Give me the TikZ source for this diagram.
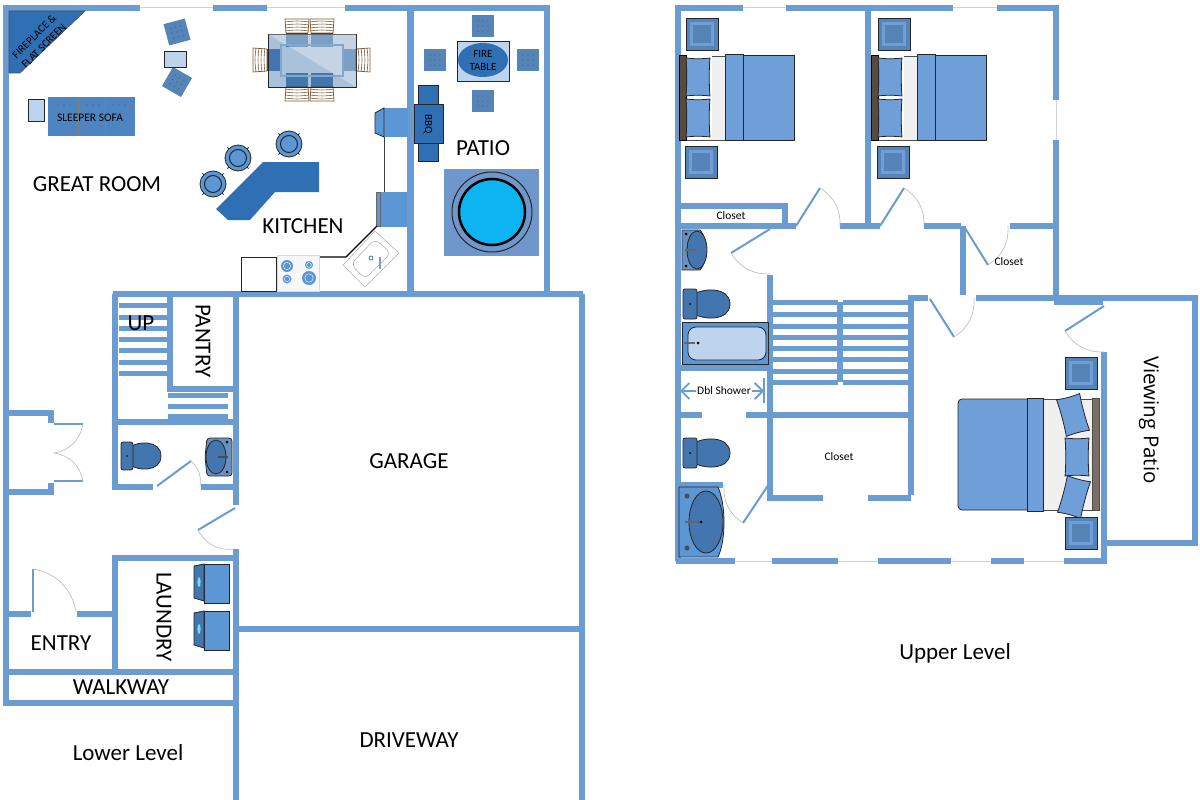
\documentclass[tikz,border=0pt]{standalone}
\usepackage{fontspec}
\setmainfont{Carlito}
\newfontfamily\patiofont{Open Sans}
\usetikzlibrary{arrows.meta}
\definecolor{wallblue}{HTML}{6A9BD1}
\definecolor{darkblue}{HTML}{2F70B5}
\definecolor{midblue}{HTML}{5B97D5}
\definecolor{seatblue}{HTML}{4376AE}
\definecolor{coverblue}{HTML}{6F9FD8}
\definecolor{paleblue}{HTML}{BDD3EE}
\definecolor{chairtan}{HTML}{7A5A35}
\definecolor{tubblue}{HTML}{6F97CC}
\definecolor{tubcyan}{HTML}{0DB4F2}
\definecolor{headbrown}{HTML}{5A4A3C}
\tikzset{
  wall/.style={line width=5.5pt,draw=wallblue},
  glass/.style={line width=1pt,draw=black!18},
  leaf/.style={line width=2pt,draw=wallblue},
  swing/.style={line width=.6pt,draw=black!28},
  outline/.style={line width=.8pt,draw=black!85},
  roomlabel/.style={font=\fontsize{23}{25}\selectfont},
  smalllabel/.style={font=\fontsize{11.5}{13}\selectfont},
  patchair/.pic={
    \fill[seatblue!90!white] (-11,-11) rectangle (11,11);
    \foreach \i in {-5,0,5}{
      \foreach \j in {-5,0,5}{
        \fill[seatblue!85!black] (\i,\j) circle (.7);
      }
    }
  },
  nightstand/.pic={
    \fill[seatblue!90!white,outline] (-16,-16) rectangle (16,16);
    \draw[line width=2.5pt,draw=coverblue] (-10.5,-10.5) rectangle (10.5,10.5);
  },
  stool/.pic={
    \foreach \a in {45,135,225,315}{\draw[line width=1pt,black!80] (0,0) -- (\a:15);}
    \fill[midblue,outline] (0,0) circle (13);
    \draw[line width=1pt,draw=black!85] (0,0) circle (8.5);
  },
  dinechair/.pic={
    \fill[seatblue] (-11,14) rectangle (11,28);
    \draw[line width=1.4pt,black!85] (-11,14) -- (11,14);
    \fill[white,draw=chairtan,line width=.7pt] (-12,0) -- (12,0) -- (11,14) -- (-11,14) -- cycle;
    \foreach \i in {3,6,9,12}{\draw[line width=.6pt,chairtan] (-12,\i) to[bend left=8] (12,\i);}
  },
  toilet/.pic={
    \fill[seatblue,outline] (10,-9) .. controls (18,-16) and (47,-18) .. (47,0) .. controls (47,18) and (18,16) .. (10,9) -- cycle;
    \fill[seatblue,outline,rounded corners=2pt] (0,-15) rectangle (14,15);
    \fill[black] (7,0) circle (1);
  },
  pillow/.pic={
    \fill[coverblue,draw=black!85,line width=.8pt] (-12,-19) .. controls (-11,-10) and (-11,10) .. (-12,19)
      .. controls (-4,18) and (4,18) .. (12,19) .. controls (11,10) and (11,-10) .. (12,-19)
      .. controls (4,-18) and (-4,-18) .. (-12,-19) -- cycle;
  },
  twinbed/.pic={
    \fill[black!6,draw=black!70,line width=.8pt] (6,1) rectangle (48,85);
    \fill[white] (6,1) rectangle (33,84);
    \fill[headbrown,draw=black,line width=.5pt] (0,0) rectangle (7,85);
    \fill[coverblue,outline] (46,0) rectangle (115,85);
    \fill[coverblue,outline] (46,-1) rectangle (64,85);
    \pic at (19,22) {pillow};
    \pic at (19,63) {pillow};
    \pic at (23,-21) {nightstand};
    \pic at (22,107) {nightstand};
  }
}
\begin{document}
\begin{tikzpicture}[x=1pt,y=-1pt]
  \useasboundingbox (0,0) rectangle (1200,800);

  % lower level walls
  \draw[glass] (140,8) -- (213,8) (267,8) -- (345,8);
  \draw[wall] (6,706) -- (6,8) -- (140,8) (213,8) -- (267,8) (345,8) -- (547,8) -- (547,292);
  \draw[wall,line width=7pt] (410,8) -- (410,292);
  \draw[wall] (113,294) -- (583,294) (582,294) -- (582,800);
  \draw[wall] (236,294) -- (236,505) (236,549) -- (236,800) (236,629) -- (582,629);
  \draw[wall] (115,294) -- (115,487) -- (153,487) (201,487) -- (233,487);
  \draw[wall] (170,294) -- (170,389) -- (233,389) (117,422) -- (233,422);
  \draw[wall] (4,413) -- (51,413) -- (51,423) (51,483) -- (51,492) -- (4,492);
  \draw[wall] (234,558) -- (115,558) -- (115,672) (6,614) -- (31,614) (77,614) -- (115,614);
  \draw[wall] (4,672) -- (234,672) (4,703) -- (234,703);
  \foreach \y in {305,317,328,339,350,362,373}{
    \fill[wallblue] (119,\y-2.5) rectangle (167,\y+2.5);
  }
  \foreach \y in {395,406,416}{
    \fill[wallblue] (168,\y-2.5) rectangle (228,\y+2.5);
  }

  % lower level doors
  \draw[leaf] (157,486) -- (191,461);
  \draw[swing] (191,461) to[bend left=28] (200,487);
  \draw[leaf] (54,424) -- (83,424) (54,481) -- (83,481);
  \draw[swing] (83,424) to[bend left=35] (54,453) to[bend left=35] (83,481);
  \draw[leaf] (33,612) -- (33,569);
  \draw[swing] (33,569) to[bend left=35] (76,612);
  \draw[leaf] (235,508) -- (198,530);
  \draw[swing] (198,530) to[bend right=35] (235,549);

  % great room
  \fill[darkblue,draw=black!70,line width=.6pt] (9,11) -- (85,11) -- (20,73) -- (9,73) -- cycle;
  \node[rotate=45,align=center,font=\fontsize{11}{13.5}\selectfont] (fireplace) at (39,41) {FIREPLACE \&\\FLAT SCREEN};
  \fill[paleblue,outline] (28,99) rectangle (44,121);
  \fill[darkblue!85!white] (48,97) rectangle (135,136);
  \foreach \x in {78,105}{\draw[line width=.4pt,black!50] (\x,98) -- (\x,135);}
  \foreach \x in {58,64,70,87,93,99,113,119,125}{
    \fill[seatblue!80!black] (\x,105) circle (.7);
  }
  \node[font=\fontsize{11.5}{13}\selectfont] (sofa) at (90,118) {SLEEPER SOFA};
  \pic[rotate=15] at (177,32) {patchair};
  \pic[rotate=-30] at (177,82) {patchair};
  \fill[paleblue,outline] (164,51) rectangle (186,67);

  % dining table
  \foreach \x in {297,322}{
    \pic at (\x,19) {dinechair};
    \pic[yscale=-1] at (\x,101) {dinechair};
  }
  \pic[rotate=90] at (253,60) {dinechair};
  \pic[rotate=-90] at (370,60) {dinechair};
  \fill[seatblue,fill opacity=.45,outline] (268,34) rectangle (356,87);
  \fill[white,fill opacity=.3] (268,34) -- (356,87) -- (356,34) -- cycle;
  \draw[line width=1.4pt,seatblue!65!white] (281,45) rectangle (343,76);

  % kitchen
  \fill[darkblue] (263,162) -- (319,162) -- (319,192) -- (275,192) -- (250,220) -- (228,220) -- (216,209) -- cycle;
  \pic at (238,158) {stool};
  \pic at (213,184) {stool};
  \pic at (289,144) {stool};
  \draw[line width=1pt,black!75] (384,137) -- (384,192) -- (407,192);
  \fill[midblue] (384,108) rectangle (408,137);
  \fill[midblue,outline] (375,113) -- (384,108) -- (384,137) -- (375,133) -- cycle;
  \fill[midblue] (376,192) rectangle (407,227);
  \fill[midblue,draw=black!60,line width=.6pt] (376,192) rectangle (380,226);
  \draw[line width=1.4pt,black] (377,226) -- (346,257) -- (319,257);
  \draw[line width=1pt,black!85] (241,257) rectangle (276,291);
  \fill[black!3,draw=black!15] (277,255) rectangle (319,291);
  \foreach \x/\y/\r in {287/266/6,309/265/4,287/279/4.5,309/278/7}{
    \fill[midblue] (\x,\y) circle (\r);
    \draw[line width=.4pt,white] (\x,\y) circle (\r*.6);
  }
  \draw[line width=.6pt,black!30,fill=white] (343,265) -- (375,231) -- (399,253) -- (365,287) -- cycle;
  \draw[line width=.6pt,black!30,rounded corners=6pt] (351,264) -- (375,239) -- (391,253) -- (365,279) -- cycle;
  \draw[line width=.8pt,seatblue] (371,258) circle (2);
  \draw[line width=1.2pt,seatblue!70!white] (380,257) -- (380,269);

  % patio
  \fill[darkblue,outline] (418,85) rectangle (438,161);
  \fill[darkblue,outline] (414,104) rectangle (443,143);
  \node[rotate=-90,font=\fontsize{11}{12}\selectfont] (bbq) at (428,124) {BBQ};
  \fill[paleblue,outline] (457,41) rectangle (509,81);
  \fill[darkblue] (483,60) ellipse (25 and 17);
  \node[align=center,font=\fontsize{11}{13}\selectfont] (firetable) at (483,60) {FIRE\\TABLE};
  \foreach \x/\y in {483/26,435/60,528/60,483/101}{
    \pic at (\x,\y) {patchair};
  }
  \fill[tubblue] (444,169) rectangle (539,256);
  \draw[line width=1pt,black!85] (492,212) circle (40);
  \fill[tubcyan,draw=black,line width=2.5pt] (492,212) circle (33);

  % lower level fixtures
  \pic[xscale=.85,yscale=.93] at (121,456) {toilet};
  \fill[seatblue!80!white,outline,rounded corners=3pt] (207,438) -- (232,438) -- (232,476) -- (207,476) -- (205,457) -- cycle;
  \fill[seatblue,outline] (216,457) ellipse (10 and 17);
  \draw[line width=1.2pt,black!70] (218,457) -- (228,457);
  \fill[black] (227,442) circle (1.5) (227,472) circle (1.5);
  \foreach \y in {564,611}{
    \fill[midblue,outline] (204,\y) rectangle (229,\y+39);
    \fill[seatblue,outline] (194,\y+2) -- (204,\y) -- (204,\y+37) -- (194,\y+34) -- cycle;
    \fill[cyan!50] (199,\y+18) ellipse (1.6 and 5);
  }

  % lower level labels
  \node[roomlabel] (greatroom) at (97,184) {GREAT ROOM};
  \node[roomlabel] (kitchen) at (303,226) {KITCHEN};
  \node[roomlabel] (patio) at (483,148) {PATIO};
  \node[roomlabel] (up) at (141,323) {UP};
  \node[roomlabel,rotate=-90] (pantry) at (203,341) {PANTRY};
  \node[roomlabel] (garage) at (409,461) {GARAGE};
  \node[roomlabel,rotate=-90] (laundry) at (164,617) {LAUNDRY};
  \node[roomlabel] (entry) at (61,643) {ENTRY};
  \node[roomlabel] (walkway) at (121,687) {WALKWAY};
  \node[roomlabel] (driveway) at (409,740) {DRIVEWAY};
  \node[roomlabel] (lowerlevel) at (128,753) {Lower Level};

  % upper level walls
  \draw[glass] (743,8) -- (786,8) (953,8) -- (997,8) (1056,100) -- (1056,140);
  \draw[glass] (735,561) -- (772,561) (838,561) -- (878,561) (951,561) -- (991,561) (1024,561) -- (1064,561);
  \draw[wall] (678,561) -- (678,8) -- (743,8) (786,8) -- (953,8) (997,8) -- (1056,8) -- (1056,100);
  \draw[wall] (868,8) -- (868,226) (1056,140) -- (1056,298) (963,226) -- (963,295);
  \draw[wall] (676,206) -- (785,206) -- (785,226) (676,226) -- (796,226) (840,226) -- (880,226) (924,226) -- (961,226) (1010,226) -- (1056,226);
  \draw[wall] (770,275) -- (770,498) -- (823,498) (868,498) -- (911,498);
  \draw[wall] (676,368) -- (770,368) (676,415) -- (702,415) (746,415) -- (908,415) (676,485) -- (723,485);
  \draw[wall] (840,302) -- (840,382);
  \draw[wall] (911,495) -- (911,298) -- (928,298) (976,298) -- (1198,298) -- (1195,298) -- (1195,543) -- (1104,543);
  \draw[wall,line width=4pt] (1054,303) -- (1103,303);
  \draw[wall] (1104,352) -- (1104,563) (1107,561) -- (1064,561) (1024,561) -- (991,561) (951,561) -- (878,561) (838,561) -- (772,561) (735,561) -- (676,561);
  \foreach \y in {302,314,326,337,348,359,371,382}{
    \fill[wallblue] (773,\y-2.5) rectangle (838,\y+2.5);
    \fill[wallblue] (843,\y-2.5) rectangle (908,\y+2.5);
  }

  % upper level doors
  \draw[leaf] (796,226) -- (820,188);
  \draw[swing] (820,188) to[bend left=30] (840,226);
  \draw[leaf] (880,226) -- (904,188);
  \draw[swing] (904,188) to[bend left=30] (924,226);
  \draw[leaf] (965,228) -- (988,265);
  \draw[swing] (988,265) to[bend right=30] (1008,226);
  \draw[leaf] (770,229) -- (731,253);
  \draw[swing] (731,253) to[bend right=30] (770,274);
  \draw[leaf] (769,484) -- (743,523);
  \draw[swing] (743,523) to[bend left=30] (724,485);
  \draw[leaf] (930,299) -- (954,337);
  \draw[swing] (954,337) to[bend right=30] (974,298);
  \draw[leaf] (1104,306) -- (1065,331);
  \draw[swing] (1065,331) to[bend right=30] (1104,352);

  % bedrooms
  \pic at (679,55) {twinbed};
  \pic at (871,55) {twinbed};
  \fill[black!6,draw=black!70,line width=.8pt] (1040,399) rectangle (1093,510);
  \fill[headbrown!80!white,draw=black!70,line width=.5pt] (1092,398) rectangle (1099,510);
  \fill[coverblue,outline,rounded corners=4pt] (958,399) -- (1035,399) -- (1035,510) -- (958,510) -- cycle;
  \fill[coverblue,outline] (1027,398) rectangle (1043,511);
  \pic[rotate=15] at (1073,415) {pillow};
  \pic at (1077,457) {pillow};
  \pic[rotate=-15] at (1074,497) {pillow};
  \pic at (1081,373) {nightstand};
  \pic at (1081,533) {nightstand};

  % upper level baths
  \fill[seatblue!80!white,outline] (682,230) -- (700,230) .. controls (708,238) and (708,262) .. (700,270) -- (682,270) -- cycle;
  \fill[seatblue,outline] (697,250) ellipse (10 and 19);
  \draw[line width=1.2pt,black!60] (685,250) -- (695,250);
  \fill[black] (686,234) circle (1.5) (686,266) circle (1.5);
  \pic at (683,304) {toilet};
  \pic at (683,453) {toilet};
  \fill[midblue,outline] (682,322) rectangle (768,364);
  \fill[paleblue,outline,rounded corners=8pt] (688,327) -- (766,327) -- (766,360) -- (688,360) -- cycle;
  \fill[black] (698,343) circle (1.5);
  \draw[line width=1.2pt,black!60] (684,343) -- (695,343);
  \fill[midblue,outline] (679,487) -- (718,487) .. controls (726,505) and (726,540) .. (718,557) -- (679,557) -- cycle;
  \fill[seatblue,outline] (706,522) ellipse (17 and 31);
  \draw[line width=1.4pt,black!60,fill=white] (685,522) -- (701,522);
  \fill[black] (701,522) circle (1.5);
  \fill[black!70] (687,496) circle (2.5) (687,548) circle (2.5);

  % double shower
  \node[font=\fontsize{11.5}{13}\selectfont,inner sep=1pt] (shower) at (724,391) {Dbl Shower};
  \coordinate (showerl) at (680,391);
  \coordinate (showerr) at (764,391);
  \draw[line width=1.8pt,wallblue] (680,378) -- (680,403) (764,378) -- (764,403);
  \draw[line width=1.8pt,wallblue,-{Straight Barb[length=8pt,width=16pt]}] (shower.west) -- (showerl);
  \draw[line width=1.8pt,wallblue,-{Straight Barb[length=8pt,width=16pt]}] (shower.east) -- (showerr);

  % upper level labels
  \node[smalllabel] (closeta) at (731,216) {Closet};
  \node[smalllabel] (closetb) at (1009,262) {Closet};
  \node[smalllabel] (closetc) at (839,457) {Closet};
  \node[rotate=-90,font=\patiofont\fontsize{20.5}{22}\selectfont] (viewing) at (1149,420) {Viewing Patio};
  \node[roomlabel] (upperlevel) at (955,653) {Upper Level};
\end{tikzpicture}
\end{document}
